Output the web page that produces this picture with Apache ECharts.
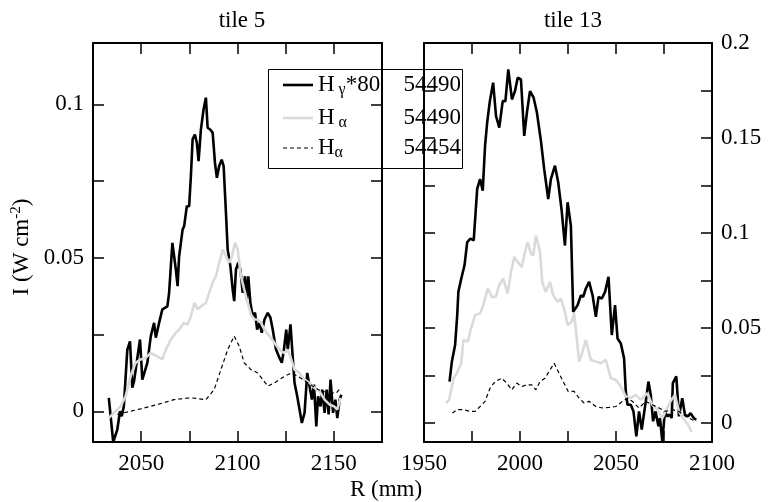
<!DOCTYPE html>
<html><head><meta charset="utf-8">
<script src="https://cdn.jsdelivr.net/npm/echarts@6/dist/echarts.min.js"></script>
<style>html,body{margin:0;padding:0;background:#fff}#c{width:771px;height:502px}</style>
</head><body><div id="c"></div>
<script>
// ---- data (R in mm, I in W cm^-2) ----
const titles = ['tile 5', 'tile 13'];
const legendShots = ['54490', '54490', '54454'];

const tile5Gamma = [[2033.2,0.0044],[2035.5,-0.010],[2037.6,-0.006],[2039,0],[2039.9,-0.0016],[2041,0.0016],[2042.8,0.020],[2044.2,0.0228],[2045.4,0.0077],[2046.3,0.0098],[2049.4,0.0234],[2050.6,0.0103],[2053.2,0.0158],[2055,0.0245],[2056.7,0.0288],[2057.6,0.024],[2059.3,0.0288],[2061,0.0332],[2063.6,0.0342],[2064.5,0.0386],[2066.2,0.0549],[2068,0.0462],[2068.9,0.0408],[2069.7,0.0505],[2071.5,0.0592],[2072.3,0.0603],[2073.7,0.0668],[2074.9,0.0668],[2075.8,0.0766],[2076.7,0.0886],[2077.9,0.0902],[2078.9,0.0875],[2079.8,0.0815],[2081,0.0918],[2082.4,0.0984],[2083.6,0.1022],[2084.5,0.0924],[2085.8,0.0918],[2087.1,0.0908],[2088.3,0.081],[2089.3,0.0761],[2090.5,0.0799],[2091.8,0.082],[2092.8,0.0799],[2094,0.0647],[2094.9,0.0527],[2096.3,0.0473],[2097.5,0.0397],[2098.3,0.0359],[2099.2,0.0462],[2100.4,0.0484],[2101.5,0.0462],[2102.7,0.0386],[2103.9,0.044],[2104.9,0.0364],[2105.6,0.044],[2106.7,0.0353],[2107.9,0.031],[2109.1,0.0321],[2110.2,0.0266],[2111.4,0.0288],[2112.6,0.0256],[2114,0.0299],[2115.7,0.0321],[2117.1,0.0305],[2118.3,0.0266],[2120,0.0201],[2121.8,0.0174],[2123,0.0158],[2124.1,0.0201],[2125.3,0.0266],[2126.1,0.0201],[2127.5,0.0283],[2128.4,0.0201],[2129.6,0.0093],[2131,0.0049],[2132.2,0.0006],[2133.4,-0.0038],[2134.8,-0.0005],[2136.2,0.0125],[2137.4,0.0082],[2138.6,0.0038],[2139.7,0.0087],[2140.9,-0.0049],[2141.8,0.0049],[2143.1,0.0016],[2144,0.0071],[2145.2,-0.0005],[2146.3,0.0071],[2147.3,-0.001],[2148.3,0.0103],[2149.6,-0.0005],[2150.8,0.0038],[2151.8,-0.0022],[2153,0.0038],[2153.9,0.0054]];

const tile5Alpha = [[2033.2,-0.0022],[2035.8,-0.0005],[2039.3,0.0016],[2041.9,0.0049],[2044.5,0.0114],[2047.1,0.0158],[2049.7,0.0169],[2052.3,0.0174],[2054.9,0.019],[2058.4,0.0179],[2061,0.0169],[2062.8,0.0201],[2065.4,0.0234],[2068,0.0256],[2069.7,0.0266],[2072,0.0288],[2074.1,0.0283],[2075.8,0.031],[2077.6,0.0353],[2079.3,0.0332],[2081,0.0342],[2083.6,0.0353],[2085.3,0.0386],[2087.1,0.0419],[2088.8,0.044],[2090.5,0.0484],[2092.3,0.0527],[2094,0.0505],[2095.7,0.0484],[2097.1,0.0505],[2098.7,0.0549],[2100.1,0.0527],[2101.8,0.044],[2103.5,0.0397],[2105.3,0.0353],[2107,0.0315],[2108.7,0.0299],[2110.5,0.0299],[2112.2,0.0288],[2114,0.0266],[2116.6,0.0245],[2119.2,0.0223],[2121.8,0.0201],[2124.1,0.019],[2126.1,0.0201],[2127.9,0.0169],[2129.6,0.0136],[2132.2,0.0125],[2134.8,0.0103],[2137.4,0.0093],[2140,0.0076],[2142.6,0.0065],[2145.2,0.0038],[2147.8,0.0022],[2150.1,0.0016],[2151.8,0.0006],[2153.5,0.0044]];

const tile5AlphaRef = [[2037.6,-0.001],[2041,-0.0005],[2049.7,0.0008],[2058.4,0.0022],[2067.1,0.0038],[2075.8,0.0044],[2083.6,0.0038],[2087.9,0.0071],[2091.4,0.0136],[2094.9,0.0201],[2098.3,0.0245],[2100.9,0.0212],[2103.5,0.0158],[2107,0.0136],[2110.5,0.0125],[2115.7,0.0082],[2119.2,0.0093],[2124.4,0.0114],[2127.9,0.0125],[2131.3,0.0114],[2136.5,0.0093],[2141.8,0.0071],[2147,0.006],[2151.3,0.006],[2153.5,0.0076]];

const tile13Gamma = [[1963.3,0.0218],[1964.5,0.0323],[1966.2,0.041],[1967.3,0.0568],[1967.9,0.069],[1969.4,0.076],[1971.1,0.083],[1972.5,0.0952],[1974.2,0.097],[1975.9,0.0961],[1977.7,0.1232],[1979.2,0.1284],[1980.6,0.1223],[1981.8,0.1459],[1982.9,0.1581],[1984.3,0.1694],[1986,0.1791],[1987.5,0.1616],[1989.2,0.1555],[1991,0.1694],[1992.4,0.1694],[1993.9,0.1861],[1995.8,0.1703],[1997.4,0.1747],[1998.8,0.1817],[2000.5,0.1808],[2002.2,0.1511],[2003.6,0.1634],[2005.2,0.1747],[2007.1,0.1712],[2008.8,0.1634],[2010.9,0.1485],[2012.6,0.1336],[2014.7,0.1179],[2016.1,0.1284],[2018.2,0.1354],[2019.9,0.1267],[2021.7,0.1118],[2023.4,0.0934],[2024.8,0.1162],[2026.5,0.1039],[2027.7,0.0585],[2030,0.062],[2031.7,0.0672],[2032.9,0.0664],[2034.3,0.0708],[2036,0.0743],[2037.8,0.0672],[2039.5,0.0559],[2040.9,0.0664],[2042.6,0.0655],[2044.3,0.069],[2046.1,0.0769],[2047.8,0.0463],[2049.5,0.062],[2050.8,0.0445],[2052.5,0.0419],[2054.2,0.0341],[2055.1,0.0166],[2056,0.0096],[2057.7,0.0096],[2059.1,0.0061],[2060.6,-0.007],[2062,0.0061],[2063.4,-0.0035],[2065.5,0.0114],[2066.9,0.0218],[2068.1,0.0148],[2069.3,0.0009],[2070.6,0.0061],[2072.1,-0.0017],[2072.9,0.0026],[2074.1,-0.0096],[2075.5,0.0061],[2076.7,0.0035],[2077.9,0.0044],[2079,0.0026],[2079.6,0.021],[2081.4,0.0245],[2082.8,0.0035],[2084.5,0.0131],[2085.9,0.0044],[2087.6,0.0035],[2088.8,0.0052],[2090.5,0.0026],[2091.8,0.0017]];

const tile13Alpha = [[1961.4,0.0105],[1963.1,0.0122],[1965.4,0.0236],[1967.1,0.0262],[1969.4,0.0314],[1970.5,0.0437],[1972.8,0.0428],[1974.5,0.0498],[1976.6,0.0568],[1979.2,0.0577],[1980.9,0.062],[1983.2,0.0708],[1985.3,0.0664],[1987.4,0.0664],[1989.1,0.0725],[1991.3,0.076],[1993.6,0.0681],[1995.3,0.0795],[1997,0.0874],[1998.8,0.0847],[2000.9,0.0821],[2002.6,0.09],[2004,0.0952],[2005.7,0.0891],[2006.9,0.0882],[2008.3,0.0987],[2010.4,0.09],[2011.6,0.0743],[2013.4,0.069],[2015.6,0.0743],[2017.3,0.0672],[2019.6,0.0638],[2021.3,0.0655],[2023.4,0.0585],[2024.8,0.0515],[2026.9,0.0533],[2028.2,0.0577],[2030.8,0.0323],[2032.6,0.0376],[2034.3,0.0437],[2036.9,0.0332],[2039.5,0.0323],[2042.1,0.0314],[2044.7,0.0332],[2047.3,0.0236],[2049.9,0.0227],[2052.5,0.0192],[2055.1,0.014],[2057.7,0.0131],[2060.3,0.0148],[2062.9,0.0122],[2066.3,0.0157],[2068.9,0.0096],[2071.5,0.007],[2074.1,0.0026],[2075.8,0.0061],[2078.4,0.0114],[2080.7,0.0148],[2082.8,0.0061],[2085.4,0.0017],[2087.6,-0.0009],[2089.4,-0.0047]];

const tile13AlphaRef = [[1964.8,0.0052],[1967.1,0.007],[1970.5,0.007],[1974,0.0061],[1976.6,0.0061],[1979.2,0.0087],[1981.8,0.0114],[1984.4,0.0183],[1987,0.0218],[1990.5,0.0236],[1993.1,0.021],[1995.7,0.0175],[1998.3,0.021],[2000.9,0.0192],[2003.5,0.0201],[2006.1,0.0201],[2008.3,0.0175],[2010.4,0.0218],[2013,0.0236],[2015.6,0.0279],[2017.8,0.0314],[2019.9,0.0271],[2022.5,0.0218],[2025.1,0.0166],[2028.2,0.0166],[2030.8,0.0131],[2033.4,0.0105],[2036,0.0114],[2039.5,0.0087],[2043,0.0079],[2046.4,0.0082],[2049.9,0.0087],[2053.4,0.0114],[2056,0.0131],[2058.5,0.0114],[2062,0.0079],[2065.5,0.0114],[2068.9,0.0096],[2072.4,0.0079],[2075.8,0.0061],[2079.3,0.007],[2082.8,0.0061],[2086.2,0.0035],[2089.7,0.0017],[2091.9,0.0009]];

// axis ticks / labels
const leftXTicks = [2050, 2075, 2100, 2125, 2150];
const leftXLabels = [2050, 2100, 2150];
const rightXTicks = [1975, 2000, 2025, 2050, 2075];
const rightXLabels = [1950, 2000, 2050, 2100];
const leftYTicks = [0, 0.025, 0.05, 0.075, 0.1];
const leftYLabels = [0, 0.05, 0.1];
const rightYTicks = [0, 0.025, 0.05, 0.075, 0.1, 0.125, 0.15, 0.175];
const rightYLabels = [0, 0.05, 0.1, 0.15, 0.2];

// ---- chart ----
const FONT = 'Liberation Serif';
const FS = 23;
const lineC = '#000';
function xAx(grid, min, max, ticks, labels, pos) {
  return {
    type: 'value', gridIndex: grid, min: min, max: max, position: pos,
    axisLine: { show: true, onZero: false, lineStyle: { color: lineC, width: 2 } },
    axisTick: { show: true, inside: true, length: 11, customValues: ticks, lineStyle: { color: lineC, width: 1.5 } },
    axisLabel: labels ? { show: true, customValues: labels, fontFamily: FONT, fontSize: FS, color: '#000', margin: 10,
      formatter: v => String(Math.round(v)) } : { show: false },
    splitLine: { show: false }
  };
}
function yAx(grid, min, max, ticks, labels, pos) {
  return {
    type: 'value', gridIndex: grid, min: min, max: max, position: pos,
    axisLine: { show: true, onZero: false, lineStyle: { color: lineC, width: 2 } },
    axisTick: { show: true, inside: true, length: 11, customValues: ticks, lineStyle: { color: lineC, width: 1.5 } },
    axisLabel: labels ? { show: true, customValues: labels, fontFamily: FONT, fontSize: FS, color: '#000', margin: 9,
      formatter: v => String(+(+v).toFixed(3)) } : { show: false },
    splitLine: { show: false }
  };
}
const blackStyle = { color: '#000', width: 2.6 };
const grayStyle = { color: '#dadada', width: 2.6 };
const dashStyle = { color: '#000', width: 1.2, type: [4, 3] };
function ser(data, xi, yi, ls) {
  return { type: 'line', data: data, xAxisIndex: xi, yAxisIndex: yi, showSymbol: false, symbol: 'none',
    lineStyle: ls, animation: false, silent: true, z: 2 };
}
const rn = { fontFamily: FONT, fontSize: FS, fill: '#000', lineHeight: 26 };
const rs = { fontFamily: FONT, fontSize: 16, fill: '#000', lineHeight: 26, verticalAlign: 'bottom', padding: [10, 0, 0, 0] };

const chart = echarts.init(document.getElementById('c'), null, { renderer: 'canvas' });
const option = {
  animation: false,
  backgroundColor: '#fff',
  title: [
    { text: titles[0], left: 237, top: 4, textAlign: 'center', textStyle: { fontFamily: FONT, fontSize: FS, fontWeight: 'normal', color: '#000' } },
    { text: titles[1], left: 568, top: 4, textAlign: 'center', textStyle: { fontFamily: FONT, fontSize: FS, fontWeight: 'normal', color: '#000' } }
  ],
  grid: [
    { left: 93, top: 43, width: 289, height: 399 },
    { left: 424, top: 43, width: 288, height: 399 }
  ],
  xAxis: [
    xAx(0, 2025, 2175, leftXTicks, leftXLabels, 'bottom'),
    xAx(0, 2025, 2175, leftXTicks, null, 'top'),
    xAx(1, 1950, 2100, rightXTicks, rightXLabels, 'bottom'),
    xAx(1, 1950, 2100, rightXTicks, null, 'top')
  ],
  yAxis: [
    yAx(0, -0.01, 0.12, leftYTicks, leftYLabels, 'left'),
    yAx(0, -0.01, 0.12, leftYTicks, null, 'right'),
    yAx(1, -0.01, 0.2, rightYTicks, null, 'left'),
    yAx(1, -0.01, 0.2, rightYTicks, rightYLabels, 'right')
  ],
  series: [
    ser(tile5Gamma, 0, 0, blackStyle),
    ser(tile5Alpha, 0, 0, grayStyle),
    ser(tile5AlphaRef, 0, 0, dashStyle),
    ser(tile13Gamma, 2, 3, blackStyle),
    ser(tile13Alpha, 2, 3, grayStyle),
    ser(tile13AlphaRef, 2, 3, dashStyle)
  ],
  graphic: [
    { type: 'text', x: 22, y: 247, rotation: Math.PI / 2, z: 10,
      style: { text: '{n|I (W cm}{s|-2}{n|)}', align: 'center', verticalAlign: 'middle',
        rich: { n: rn, s: { fontFamily: FONT, fontSize: 15, fill: '#000', lineHeight: 26, verticalAlign: 'top', padding: [0, 0, 10, 0] } } } },
    { type: 'text', x: 386, y: 490, z: 10,
      style: { text: 'R (mm)', fontFamily: FONT, fontSize: FS, fill: '#000', align: 'center', verticalAlign: 'middle' } },
    { type: 'group', z: 100, children: [
      { type: 'rect', shape: { x: 268.5, y: 69.5, width: 194, height: 99 }, style: { fill: '#fff', stroke: '#000', lineWidth: 1 } },
      { type: 'line', shape: { x1: 283, y1: 85, x2: 313, y2: 85 }, style: { stroke: '#000', lineWidth: 2.6 } },
      { type: 'line', shape: { x1: 283, y1: 118, x2: 313, y2: 118 }, style: { stroke: '#dadada', lineWidth: 2.6 } },
      { type: 'line', shape: { x1: 283, y1: 148, x2: 313, y2: 148 }, style: { stroke: '#000', lineWidth: 1.2, lineDash: [4, 3] } },
      { type: 'text', x: 318, y: 85, style: { text: '{n|H}{s| \u03b3}{n|*80}', verticalAlign: 'middle', rich: { n: rn, s: rs } } },
      { type: 'text', x: 318, y: 118, style: { text: '{n|H}{s| \u03b1}', verticalAlign: 'middle', rich: { n: rn, s: rs } } },
      { type: 'text', x: 318, y: 148, style: { text: '{n|H}{s|\u03b1}', verticalAlign: 'middle', rich: { n: rn, s: rs } } },
      { type: 'text', x: 461, y: 85, style: { text: legendShots[0], fontFamily: FONT, fontSize: FS, fill: '#000', align: 'right', verticalAlign: 'middle' } },
      { type: 'text', x: 461, y: 118, style: { text: legendShots[1], fontFamily: FONT, fontSize: FS, fill: '#000', align: 'right', verticalAlign: 'middle' } },
      { type: 'text', x: 461, y: 148, style: { text: legendShots[2], fontFamily: FONT, fontSize: FS, fill: '#000', align: 'right', verticalAlign: 'middle' } }
    ] }
  ]
};
chart.setOption(option);
</script>
</body></html>
